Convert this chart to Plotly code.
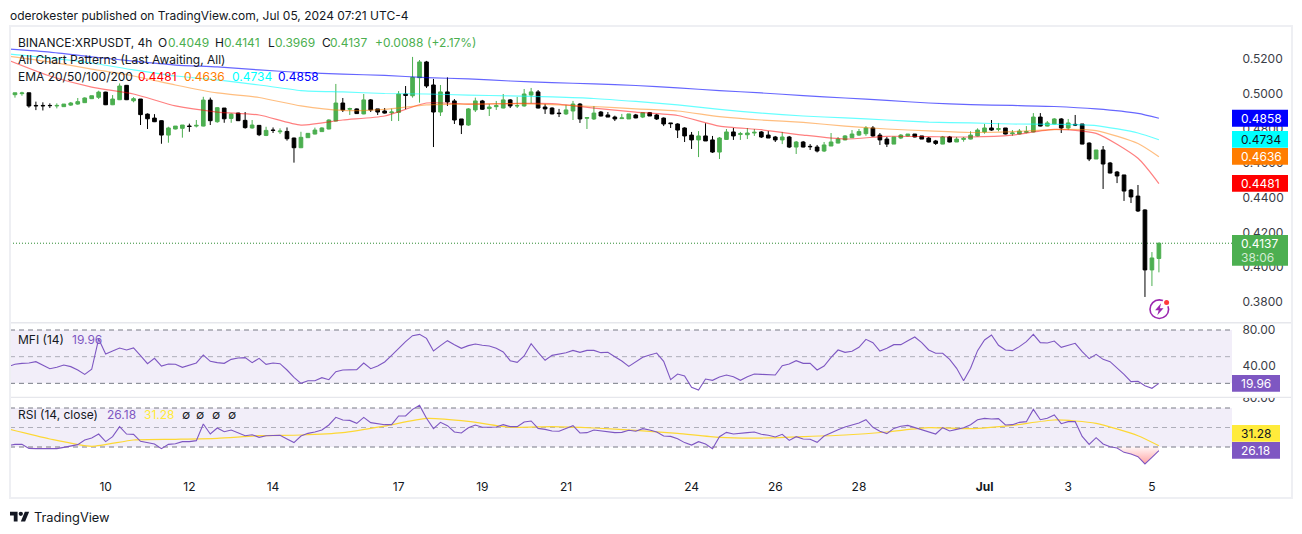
import pandas as pd
import numpy as np
import plotly.graph_objects as go

# ---------- data ----------
opens = [.4934,.4994,.5000,.5005,.4932,.4932,.4932,.4929,.4925,.4934,
 .4940,.4948,.4971,.4979,.5009,.4936,.4965,.5048,.4959,.4969,
 .4882,.4859,.4844,.4761,.4796,.4800,.4813,.4813,.4813,.4963,
 .4838,.4917,.4857,.4888,.4846,.4802,.4817,.4759,.4790,.4780,
 .4782,.4744,.4688,.4746,.4767,.4781,.4796,.4842,.4946,.4910,
 .4912,.4883,.4964,.4912,.4900,.4890,.4892,.4998,.4988,.5092,
 .5183,.5050,.4894,.5010,.4958,.4854,.4819,.4906,.4958,.4914,
 .4925,.4917,.4964,.4929,.4929,.4992,.5010,.4923,.4917,.4888,
 .4883,.4900,.4940,.4858,.4854,.4894,.4877,.4865,.4856,.4854,
 .4877,.4865,.4890,.4877,.4859,.4831,.4825,.4802,.4761,.4733,
 .4756,.4733,.4663,.4736,.4779,.4765,.4763,.4773,.4779,.4761,
 .4750,.4733,.4750,.4692,.4721,.4696,.4692,.4669,.4698,.4715,
 .4733,.4746,.4761,.4769,.4802,.4761,.4738,.4709,.4744,.4756,
 .4767,.4756,.4744,.4727,.4709,.4750,.4721,.4736,.4738,.4756,
 .4779,.4802,.4794,.4802,.4769,.4767,.4777,.4779,.4865,.4813,
 .4825,.4854,.4802,.4823,.4825,.4715,.4623,.4675,.4600,.4548,
 .4531,.4444,.4409,.4329,.3983,.4049]
highs = [.4992,.5005,.5011,.5005,.4954,.4950,.4944,.4944,.4940,.4952,
 .4975,.4979,.4988,.5017,.5011,.4992,.5059,.5050,.4980,.4969,
 .4886,.4882,.4846,.4809,.4813,.4819,.4827,.4848,.4982,.4977,
 .4923,.4917,.4886,.4890,.4894,.4848,.4819,.4809,.4805,.4800,
 .4805,.4746,.4780,.4773,.4804,.4806,.4852,.5056,.4975,.4919,
 .4915,.4998,.4969,.4912,.4917,.4914,.5015,.5044,.5212,.5194,
 .5189,.5085,.5050,.5094,.4969,.4854,.4917,.4977,.4964,.4940,
 .4958,.4998,.4969,.4981,.5027,.5033,.5021,.4940,.4921,.4912,
 .4935,.4958,.4946,.4865,.4929,.4900,.4894,.4873,.4883,.4883,
 .4883,.4890,.4894,.4883,.4863,.4831,.4829,.4806,.4779,.4784,
 .4829,.4756,.4750,.4796,.4802,.4779,.4802,.4796,.4784,.4784,
 .4756,.4779,.4756,.4727,.4727,.4709,.4704,.4721,.4773,.4750,
 .4761,.4790,.4796,.4813,.4813,.4773,.4750,.4750,.4767,.4767,
 .4767,.4756,.4750,.4733,.4756,.4756,.4750,.4750,.4783,.4800,
 .4825,.4848,.4831,.4802,.4790,.4796,.4813,.4888,.4888,.4842,
 .4859,.4859,.4854,.4877,.4825,.4719,.4675,.4698,.4606,.4554,
 .4531,.4450,.4473,.4333,.4086,.4141]
lows = [.4929,.4977,.4988,.4919,.4905,.4903,.4917,.4915,.4923,.4929,
 .4936,.4946,.4969,.4969,.4934,.4934,.4963,.4963,.4950,.4819,
 .4796,.4836,.4711,.4717,.4794,.4746,.4780,.4805,.4811,.4819,
 .4832,.4832,.4832,.4842,.4798,.4798,.4755,.4755,.4773,.4767,
 .4729,.4602,.4686,.4746,.4765,.4779,.4794,.4840,.4894,.4877,
 .4883,.4881,.4894,.4877,.4885,.4842,.4842,.4910,.4977,.4948,
 .5033,.4692,.4871,.4929,.4825,.4767,.4814,.4894,.4906,.4871,
 .4906,.4915,.4917,.4917,.4925,.4944,.4915,.4883,.4881,.4865,
 .4877,.4848,.4831,.4796,.4848,.4869,.4865,.4842,.4854,.4854,
 .4858,.4859,.4871,.4848,.4813,.4802,.4744,.4721,.4681,.4634,
 .4727,.4658,.4623,.4733,.4733,.4733,.4738,.4756,.4744,.4744,
 .4721,.4709,.4686,.4652,.4690,.4675,.4661,.4663,.4698,.4713,
 .4731,.4744,.4756,.4757,.4752,.4704,.4692,.4709,.4738,.4754,
 .4748,.4738,.4719,.4704,.4708,.4719,.4721,.4723,.4736,.4754,
 .4769,.4786,.4783,.4765,.4757,.4765,.4771,.4777,.4811,.4811,
 .4823,.4773,.4790,.4813,.4708,.4611,.4623,.4450,.4540,.4484,
 .4381,.4369,.4317,.3827,.3890,.3969]
closes = [.4986,.5005,.5004,.4929,.4930,.4930,.4931,.4932,.4940,.4946,
 .4954,.4975,.4988,.5009,.4936,.4969,.5044,.4965,.4971,.4879,
 .4855,.4838,.4761,.4802,.4813,.4819,.4811,.4817,.4963,.4844,
 .4919,.4855,.4882,.4844,.4804,.4819,.4763,.4788,.4788,.4784,
 .4740,.4688,.4748,.4771,.4790,.4802,.4848,.4946,.4906,.4914,
 .4885,.4964,.4906,.4894,.4888,.4894,.4998,.4990,.5094,.5183,
 .5044,.4894,.5010,.4952,.4848,.4819,.4912,.4958,.4910,.4923,
 .4931,.4964,.4929,.4931,.4998,.5010,.4917,.4912,.4883,.4885,
 .4906,.4940,.4854,.4862,.4888,.4871,.4865,.4854,.4860,.4883,
 .4860,.4890,.4871,.4854,.4825,.4827,.4790,.4756,.4733,.4756,
 .4727,.4663,.4744,.4779,.4756,.4769,.4773,.4777,.4750,.4744,
 .4733,.4750,.4692,.4721,.4692,.4694,.4669,.4704,.4721,.4738,
 .4756,.4767,.4781,.4802,.4756,.4733,.4709,.4750,.4761,.4767,
 .4750,.4738,.4721,.4713,.4750,.4721,.4738,.4742,.4761,.4790,
 .4802,.4790,.4798,.4767,.4773,.4784,.4781,.4865,.4813,.4831,
 .4854,.4802,.4831,.4819,.4709,.4623,.4675,.4594,.4542,.4525,
 .4438,.4404,.4323,.3983,.4052,.4137]

# EMAs and the RSI average are smooth: read every sixth bar plus the last one
ema20 = [.5194,.5102,.5038,.4998,.4929,.4894,.4877,.4819,.4848,.4871,.4946,.4940,.4943,.4943,.4917,.4894,.4874,.4813,.4792,.4761,.4738,.4754,.4752,.4750,.4761,.4794,.4771,.4627,.4481]
ema50 = [.5217,.5183,.5142,.5102,.5050,.5004,.4978,.4929,.4903,.4909,.4935,.4940,.4943,.4937,.4926,.4912,.4900,.4868,.4848,.4834,.4813,.4796,.4785,.4776,.4781,.4793,.4787,.4712,.4636]
ema100 = [.5229,.5206,.5177,.5137,.5102,.5079,.5050,.5018,.5010,.5001,.4998,.4992,.4987,.4981,.4972,.4955,.4935,.4909,.4888,.4871,.4860,.4848,.4836,.4831,.4825,.4823,.4816,.4773,.4734]
ema200 = [.5258,.5240,.5212,.5188,.5165,.5154,.5137,.5122,.5113,.5105,.5093,.5085,.5073,.5064,.5056,.5047,.5033,.5018,.5004,.4989,.4975,.4961,.4946,.4937,.4932,.4926,.4912,.4886,.4858]
rsi_ma = [48.5,38.2,30.7,37.2,37.9,38.9,41.6,42.3,44.7,51.5,59.4,56.3,50.2,50.9,49.5,47.1,44.0,39.9,39.2,40.6,42.3,45.4,49.8,48.8,52.2,57.7,54.3,41.6,31.28]

mfi = [38.8,41.4,42.5,42.9,44.4,40.3,36.5,38.0,40.6,38.8,
 35.0,30.1,35.8,69.9,53.0,56.4,59.8,57.5,59.8,51.1,
 42.1,48.1,39.5,41.8,41.4,38.0,40.3,42.9,51.9,44.8,
 43.3,42.5,47.0,48.5,48.9,43.3,48.1,41.4,42.9,42.1,
 35.0,26.8,20.0,23.0,23.0,26.4,24.1,33.1,35.0,35.0,
 35.4,42.9,36.5,39.5,44.0,51.5,59.4,66.9,73.6,75.1,
 70.6,56.4,62.4,68.0,63.5,59.4,62.4,64.3,62.8,62.0,
 59.4,55.3,45.5,43.6,50.8,64.6,54.9,45.9,51.5,53.0,
 54.5,57.1,54.9,57.1,57.1,54.5,54.9,50.0,45.1,39.1,
 44.4,49.3,51.9,54.1,44.8,24.1,30.5,28.3,15.5,12.5,
 24.9,23.4,27.1,29.4,27.5,23.4,27.5,30.5,30.1,29.4,
 29.4,39.9,41.8,45.5,42.5,42.5,35.0,39.5,49.3,57.5,
 54.9,56.0,60.5,69.5,65.8,56.4,59.4,63.5,63.5,68.0,
 72.1,65.8,57.5,53.8,53.8,47.0,36.9,23.0,36.9,56.8,
 68.8,74.4,62.8,57.5,56.8,61.3,66.9,75.1,65.8,65.4,
 67.6,60.5,62.4,65.0,55.6,47.8,52.6,47.0,44.4,37.6,
 30.1,21.9,22.3,17.4,14.4,19.96]
rsi = [31.4,32.7,32.7,28.6,28.3,28.3,27.9,28.3,29.6,30.7,
 32.4,37.2,39.2,43.3,35.5,40.6,50.9,43.3,43.0,35.8,
 34.5,33.1,28.3,32.7,33.4,35.5,35.5,36.5,53.6,43.3,
 49.5,45.7,47.4,44.7,41.6,42.6,39.9,41.6,41.6,42.0,
 38.2,34.5,41.3,44.0,45.4,47.4,52.6,60.4,57.7,57.3,
 54.3,60.4,55.0,53.6,52.9,52.9,61.8,61.8,68.6,72.7,
 59.4,48.8,55.3,51.9,45.4,44.4,49.8,52.6,50.2,50.2,
 50.5,52.9,50.9,50.9,55.6,56.7,49.1,48.1,46.4,46.1,
 48.8,51.9,44.4,44.7,47.4,46.4,45.4,44.7,45.0,47.1,
 46.1,48.8,47.4,45.4,41.3,40.9,38.5,34.5,32.0,35.5,
 33.1,28.3,40.6,45.0,43.3,43.7,44.7,45.4,43.0,42.0,
 40.3,43.0,36.8,40.6,38.2,37.9,34.8,41.3,44.7,47.8,
 50.5,52.2,54.6,58.0,50.2,46.1,43.7,49.1,51.2,52.2,
 49.8,48.1,45.4,43.3,49.8,46.4,48.1,49.8,52.9,58.0,
 59.4,58.7,59.1,52.6,52.9,55.3,56.0,68.6,58.0,59.4,
 62.8,53.9,56.0,56.0,40.9,32.7,39.6,33.1,30.3,29.0,
 24.5,22.8,20.1,12.6,19.4,26.18]

price_ticks = [0.52, 0.50, 0.48, 0.46, 0.44, 0.42, 0.40, 0.38]
time_tick_dates = ["2024-06-10","2024-06-12","2024-06-14","2024-06-17","2024-06-19","2024-06-21",
                   "2024-06-24","2024-06-26","2024-06-28","2024-07-01","2024-07-03","2024-07-05"]
time_tick_labels = ["10","12","14","17","19","21","24","26","28","<b>Jul</b>","3","5"]

assert all(len(a) == 166 for a in (opens, highs, lows, closes, mfi, rsi))
assert all(len(a) == 29 for a in (ema20, ema50, ema100, ema200, rsi_ma))

dates = pd.date_range("2024-06-07 16:00", periods=166, freq="4h").strftime("%Y-%m-%d %H:%M").tolist()
smooth_idx = list(range(0, 163, 6)) + [165]
smooth_dates = [dates[i] for i in smooth_idx]

# ---------- styling ----------
W, H = 1302, 534
FONT = "Inter, Roboto, sans-serif"
GREEN = "#4caf50"
INK = "#131722"
PURPLE = "#7e57c2"
BORDER = "#eeeff3"
TXT = 12
def px(x): return x / W
def py(y): return 1 - y / H

fig = go.Figure()
fig.add_trace(go.Candlestick(x=dates, open=opens, high=highs, low=lows, close=closes,
    increasing=dict(line=dict(color=GREEN, width=1), fillcolor=GREEN),
    decreasing=dict(line=dict(color="#000000", width=1), fillcolor="#000000"),
    whiskerwidth=0, xaxis="x", yaxis="y", hoverinfo="skip"))
for vals, col in ((ema20, "rgba(255,0,0,0.5)"), (ema50, "rgba(255,125,0,0.5)"),
                  (ema100, "rgba(0,255,255,0.6)"), (ema200, "rgba(0,0,255,0.6)")):
    fig.add_trace(go.Scatter(x=smooth_dates, y=vals, mode="lines", hoverinfo="skip",
                             line=dict(color=col, width=1.2, shape="spline", smoothing=0.6),
                             xaxis="x", yaxis="y"))
fig.add_trace(go.Scatter(x=dates, y=mfi, mode="lines", hoverinfo="skip",
                         line=dict(color=PURPLE, width=1.1), xaxis="x2", yaxis="y2"))
fig.add_trace(go.Scatter(x=dates, y=[30]*len(dates), mode="lines", line=dict(width=0),
                         hoverinfo="skip", xaxis="x3", yaxis="y3"))
fig.add_trace(go.Scatter(x=dates, y=np.minimum(rsi, 30).tolist(), mode="lines", line=dict(width=0),
                         fill="tonexty", hoverinfo="skip", xaxis="x3", yaxis="y3",
                         fillgradient=dict(type="vertical", start=12, stop=30,
                             colorscale=[[0, "rgba(255,82,82,0.55)"], [1, "rgba(255,82,82,0.05)"]])))
fig.add_trace(go.Scatter(x=smooth_dates, y=rsi_ma, mode="lines", hoverinfo="skip",
                         line=dict(color="#fdd835", width=1.2, shape="spline", smoothing=0.6),
                         xaxis="x3", yaxis="y3"))
fig.add_trace(go.Scatter(x=dates, y=rsi, mode="lines", hoverinfo="skip",
                         line=dict(color=PURPLE, width=1.1), xaxis="x3", yaxis="y3"))

shapes = []
def rect(x0, y0, x1, y1, fill, layer="above", line=None):
    shapes.append(dict(type="rect", xref="paper", yref="paper", x0=px(x0), x1=px(x1), y0=py(y0), y1=py(y1),
                       fillcolor=fill, line=line or dict(width=0), layer=layer))
def hline(y, yref, color, dash, width=1):
    shapes.append(dict(type="line", xref="paper", yref=yref, x0=px(10), x1=px(1232), y0=y, y1=y,
                       line=dict(color=color, width=width, dash=dash), layer="below"))

# indicator bands
for yref, lo, hi, mid in (("y2", 20, 80, 50), ("y3", 30, 70, 50)):
    shapes.append(dict(type="rect", xref="paper", yref=yref, x0=px(10), x1=px(1232), y0=lo, y1=hi,
                       fillcolor="rgba(126,87,194,0.1)", line=dict(width=0), layer="below"))
    hline(hi, yref, "#787b86", "5px,4px")
    hline(mid, yref, "rgba(120,123,134,0.55)", "5px,4px")
    hline(lo, yref, "#787b86", "5px,4px")
# last price line
shapes.append(dict(type="line", xref="paper", yref="y", x0=px(10), x1=px(1232), y0=closes[-1], y1=closes[-1],
                   line=dict(color="#2e8b33", width=1, dash="1px,2px"), layer="below"))

# mask clipping the RSI scale's top label
rect(1232, 391.8, 1291, 397, "#ffffff")
# frame and separators
rect(10, 26, 1292, 498, "rgba(0,0,0,0)", line=dict(color=BORDER, width=2))
rect(11, 322, 1291, 323.5, "#e6e7ec")
rect(11, 396.7, 1291, 398, "#e6e7ec")

# scale labels
annos = []
def text(x, y, s, color=INK, size=TXT, anchor="left"):
    annos.append(dict(xref="paper", yref="paper", x=px(x), y=py(y), text=s, showarrow=False,
                      xanchor=anchor, yanchor="middle", borderpad=0,
                      font=dict(family=FONT, size=size, color=color)))
for y0, y1, x1, fill, col, label in (
    (109.8, 126.7, 1288, "#0000ff", "#ffffff", "0.4858"),
    (131, 147.8, 1288, "#00ffff", "#131722", "0.4734"),
    (148, 164.8, 1288, "#ff7d00", "#ffffff", "0.4636"),
    (175, 191.8, 1288, "#ff0000", "#ffffff", "0.4481"),
    (375, 391.8, 1280, PURPLE, "#ffffff", "19.96"),
    (425, 441.8, 1280, "#ffeb3b", "#131722", "31.28"),
    (442, 458.8, 1280, PURPLE, "#ffffff", "26.18"),
):
    rect(1232, y0, x1, y1, fill)
    text(1240, (y0 + y1) / 2, label, color=col)
rect(1232, 235, 1288, 265.8, GREEN)
text(1240, 243.5, "0.4137", color="#ffffff")
text(1240, 257.5, "38:06", color="rgba(255,255,255,0.75)")

# header and legends
text(9, 15.7, "oderokester published on TradingView.com, Jul 05, 2024 07:21 UTC-4")
y = 42.7
text(17, y, "BINANCE:XRPUSDT, 4h")
for x, s, c in ((157, "O", INK), (166.7, "0.4049", GREEN), (214.3, "H", INK), (223.3, "0.4141", GREEN),
                (266.7, "L", INK), (273.7, "0.3969", GREEN), (321, "C", INK), (329.3, "0.4137", GREEN),
                (374.3, "+0.0088", GREEN), (426.3, "(+2.17%)", GREEN)):
    text(x, y, s, color=c)
text(17, 59.7, "All Chart Patterns (Last Awaiting, All)")
text(17, 76.7, "EMA 20/50/100/200")
for x, s, c in ((137.3, "0.4481", "#ff0000"), (183, "0.4636", "#ff7d00"),
                (230.7, "0.4734", "#00ffff"), (277.3, "0.4858", "#0000ff")):
    text(x, 76.7, s, color=c)
text(17, 339, "MFI (14)")
text(70.7, 339, "19.96", color=PURPLE)
text(17, 414, "RSI (14, close)")
text(105.7, 414, "26.18", color=PURPLE)
text(143, 414, "31.28", color="#ffeb3b")
for x in (185.7, 200.3, 216, 231.7):
    text(x, 414, "∅", size=12, anchor="center")

# TradingView logo
def path(points):
    return "M" + " L".join(f"{px(a):.5f},{py(b):.5f}" for a, b in points) + " Z"
def logo(a, b):
    return (10 + a * 0.54, 509.5 + b * 0.54)
for poly in ([(0,4),(14,4),(14,22),(7,22),(7,11),(0,11)], [(27.5,4),(35.5,4),(28,22),(20,22)]):
    shapes.append(dict(type="path", xref="paper", yref="paper", path=path([logo(*p) for p in poly]),
                       fillcolor="#131722", line=dict(width=0), layer="above"))
def circle(cx, cy, r, fill="rgba(0,0,0,0)", line=None):
    shapes.append(dict(type="circle", xref="paper", yref="paper", x0=px(cx-r), x1=px(cx+r),
                       y0=py(cy+r), y1=py(cy-r), fillcolor=fill, line=line or dict(width=0), layer="above"))
circle(20.8, 513.8, 2.15, "#131722")
text(33, 517.7, "TradingView", size=12.8)

# lightning badge
circle(1159.3, 309.2, 9.3, line=dict(color="#9c27b0", width=1.6))
circle(1166.6, 302.4, 4.2, "#ffffff")
circle(1166.6, 302.4, 2.5, "#ff3b3b")
bolt = [(1.8,-6),(-4.2,1),(-0.6,1),(-2,6),(4.2,-1),(0.6,-1)]
shapes.append(dict(type="path", xref="paper", yref="paper",
                   path=path([(1159.3 + a, 309.2 + b) for a, b in bolt]),
                   fillcolor="#9c27b0", line=dict(width=0), layer="above"))

x_range = ["2024-06-07 17:09", "2024-07-06 21:55"]
x_dom = [px(10), px(1232)]
base_x = dict(range=x_range, domain=x_dom, type="date", showgrid=False, zeroline=False,
              showline=False, fixedrange=True)
base_y = dict(side="right", showgrid=False, zeroline=False, showline=False, ticks="outside", ticklen=7,
              tickcolor="rgba(0,0,0,0)", tickfont=dict(family=FONT, size=TXT, color="#3a3d46"), fixedrange=True)

fig.update_layout(
    width=W, height=H, margin=dict(l=0, r=0, t=0, b=0, pad=0, autoexpand=False),
    paper_bgcolor="#ffffff", plot_bgcolor="#ffffff",
    showlegend=False, boxgap=0.25, shapes=shapes, annotations=annos,
    font=dict(family=FONT, color=INK),
    xaxis=dict(base_x, anchor="y", showticklabels=False, rangeslider=dict(visible=False)),
    xaxis2=dict(base_x, anchor="y2", showticklabels=False),
    xaxis3=dict(base_x, anchor="y3", tickmode="array", tickvals=time_tick_dates, ticktext=time_tick_labels,
                ticks="outside", ticklen=1, tickcolor="rgba(0,0,0,0)",
                tickfont=dict(family=FONT, size=TXT, color=INK)),
    yaxis=dict(base_y, domain=[py(322), py(27)], range=[0.36825, 0.53846], anchor="x",
               tickmode="array", tickvals=price_ticks, ticktext=[f"{v:.4f}" for v in price_ticks]),
    yaxis2=dict(base_y, domain=[py(397), py(323)], range=[4.64, 87.875], anchor="x2",
                tickmode="array", tickvals=[80, 40], ticktext=["80.00", "40.00"]),
    yaxis3=dict(base_y, domain=[py(475), py(398)], range=[1.28, 80.26], anchor="x3",
                tickmode="array", tickvals=[80], ticktext=["80.00"]),
)
fig.write_html("out.html", config=dict(displayModeBar=False, staticPlot=True),
               post_script="document.body.style.margin='0';document.body.style.overflow='hidden';")
